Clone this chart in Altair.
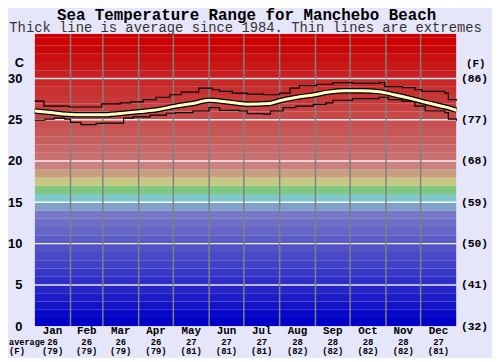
import altair as alt
import pandas as pd

# ---------------- data ----------------
month_names = ["Jan", "Feb", "Mar", "Apr", "May", "Jun",
               "Jul", "Aug", "Sep", "Oct", "Nov", "Dec"]
month_start = [0, 31, 59, 90, 120, 151, 181, 212, 243, 273, 304, 334]
month_len = [31, 28, 31, 30, 31, 30, 31, 31, 30, 31, 30, 31]
month_avg_c = [26, 26, 26, 26, 27, 27, 27, 28, 28, 28, 28, 27]
month_avg_f = [79, 79, 79, 79, 81, 81, 81, 82, 82, 82, 82, 81]

avg_day = [0, 14, 28, 43, 58, 74, 91, 108, 122, 137, 151, 165, 177, 184,
           203, 212, 226, 241, 255, 269, 283, 298, 312, 326, 340, 355, 365]
avg_temp = [26.06, 25.87, 25.67, 25.6, 25.6, 25.75, 25.98, 26.26, 26.65,
            26.97, 27.36, 27.17, 26.97, 26.88, 26.97, 27.3, 27.7, 28.0,
            28.35, 28.5, 28.5, 28.4, 28.0, 27.55, 27.05, 26.55, 26.15]

max_day = [0, 8, 30, 58, 74, 83, 94, 105, 117, 127, 142, 154, 160, 171, 184,
           198, 212, 221, 229, 244, 258, 275, 298, 303, 318, 329, 335, 355,
           358, 365]
max_temp = [27.25, 26.65, 26.54, 26.93, 27.05, 27.17, 27.44, 27.72, 28.03,
            28.35, 28.82, 28.63, 28.43, 28.23, 28.11, 28.03, 28.23, 28.82,
            29.14, 29.3, 29.5, 29.4, 29.5, 29.0, 28.9, 28.63, 28.43, 28.23,
            27.44, 27.33]

min_day = [0, 9, 17, 26, 31, 40, 53, 58, 77, 85, 100, 114, 122, 137, 151,
           160, 177, 184, 198, 204, 215, 226, 241, 252, 258, 275, 298, 306,
           318, 329, 338, 355, 358, 365]
min_temp = [24.96, 25.08, 25.2, 25.08, 24.68, 24.41, 24.57, 24.6, 25.2,
            25.35, 25.55, 25.79, 25.87, 26.06, 26.46, 26.14, 26.06, 25.75,
            25.67, 26.06, 26.46, 26.65, 26.85, 27.05, 27.36, 27.56, 27.72,
            27.44, 27.25, 26.65, 26.06, 25.87, 25.08, 24.88]

tick_c = [0, 5, 10, 15, 20, 25, 30]
band_lo = list(range(0, 36))

title_text = "Sea Temperature Range for Manchebo Beach"
subtitle_text = "Thick line is average since 1984. Thin lines are extremes"

# ---------------- styling ----------------
W, H = 427, 296
YMAX = 35.4
MONO = "Liberation Mono"
SANS = "Liberation Sans"


def band_color(t):
    if t <= 13:
        v = round(0x78 * t / 13)
        return "#%02x%02x%02x" % (v, v, 200)
    special = {14: "#80a0c8", 15: "#80c8c8", 16: "#80c880",
               17: "#c8c880", 18: "#c8a080", 19: "#c88080"}
    if t in special:
        return special[t]
    if t >= 34:
        return "#cc0000"
    g = max(0, 0x70 - 8 * (t - 20))
    return "#%02x%02x%02x" % (200, g, g)


bands_df = pd.DataFrame({
    "lo": band_lo,
    "hi": [min(v + 1, YMAX) for v in band_lo],
    "color": [band_color(v) for v in band_lo],
})
avg_df = pd.DataFrame({"day": avg_day, "temp": avg_temp})
max_df = pd.DataFrame({"day": max_day, "temp": max_temp})
min_df = pd.DataFrame({"day": min_day, "temp": min_temp})
hl_df = pd.DataFrame({"t": tick_c[1:]})
vl_df = pd.DataFrame({"d": month_start[1:]})
mon_df = pd.DataFrame({
    "mid": [s + l / 2 for s, l in zip(month_start, month_len)],
    "name": month_names,
    "c": [str(v) for v in month_avg_c],
    "f": ["(%d)" % v for v in month_avg_f],
})

xs = alt.Scale(domain=[0, 365], nice=False, zero=False)
ys = alt.Scale(domain=[0, YMAX], nice=False, zero=False)

bands = alt.Chart(bands_df).mark_rect(clip=True).encode(
    x=alt.value(0), x2=alt.value(W),
    y=alt.Y("lo:Q", scale=ys, axis=alt.Axis(
        values=tick_c, title="C", titleAngle=0, titleX=-16, titleY=29,
        titleAlign="center", titleBaseline="middle", titleFont=SANS,
        titleFontSize=13, titleFontWeight="bold", titleColor="#000",
        ticks=False, domain=False, grid=False, labelFont=SANS,
        labelFontSize=13, labelFontWeight="bold", labelPadding=13,
        labelColor="#000")),
    y2="hi:Q",
    color=alt.Color("color:N", scale=None),
)

hlines = alt.Chart(hl_df).mark_rule(color="white", strokeWidth=1.5, opacity=0.9).encode(
    x=alt.value(0), x2=alt.value(W),
    y=alt.Y("t:Q", scale=ys, axis=alt.Axis(
        orient="right", values=tick_c,
        labelExpr="'(' + round(datum.value * 9 / 5 + 32) + ')'",
        title="(F)", titleAngle=0, titleX=19, titleY=30, titleAlign="center",
        titleBaseline="middle", titleFont=MONO, titleFontSize=11,
        titleFontWeight="bold", titleColor="#000",
        ticks=False, domain=False, grid=False, labelFont=MONO,
        labelFontSize=11.5, labelFontWeight="bold", labelPadding=4,
        labelColor="#000")),
)

vlines = alt.Chart(vl_df).mark_rule(color="#808080", strokeWidth=1.5).encode(
    x=alt.X("d:Q", scale=xs, axis=None),
    y=alt.value(0), y2=alt.value(H),
)


def line(df, **kw):
    return alt.Chart(df).mark_line(**kw).encode(
        x=alt.X("day:Q", scale=xs, axis=None),
        y=alt.Y("temp:Q", scale=ys, axis=None),
    )


max_line = line(max_df, color="black", strokeWidth=1.2, interpolate="step-after")
min_line = line(min_df, color="black", strokeWidth=1.2, interpolate="step-after")
avg_outline = line(avg_df, color="black", strokeWidth=5.5, interpolate="monotone")
avg_inner = line(avg_df, color="#ffffc0", strokeWidth=3, interpolate="monotone")


def bottom_text(field, dy, size):
    return alt.Chart(mon_df).mark_text(
        font=MONO, fontWeight="bold", fontSize=size, baseline="middle",
        color="black").encode(
        x=alt.X("mid:Q", scale=xs, axis=None),
        y=alt.value(dy),
        text=f"{field}:N",
    )


names = bottom_text("name", H + 5, 11)
crow = bottom_text("c", H + 16, 9)
frow = bottom_text("f", H + 25, 9)


def free_text(txt, x, y, size, weight="bold", color="black", align="left"):
    return alt.Chart(pd.DataFrame({"t": [txt]})).mark_text(
        font=MONO, fontWeight=weight, fontSize=size, baseline="middle",
        align=align, color=color,
    ).encode(x=alt.value(x), y=alt.value(y), text="t:N")


avg_lbl = free_text("average", -26, H + 16, 8.7)
f_lbl = free_text("(F)", -26, H + 25, 9)
title_lbl = free_text(title_text, W / 2 + 1, -19.5, 16, align="center")
sub_lbl = free_text(subtitle_text, W / 2, -6, 14, weight="normal",
                    color="#333333", align="center")

chart = alt.layer(
    bands, hlines, vlines, max_line, min_line, avg_outline, avg_inner,
    names, crow, frow, avg_lbl, f_lbl, title_lbl, sub_lbl,
).resolve_scale(y="independent").properties(
    width=W, height=H,
    autosize=alt.AutoSizeParams(type="none"),
    padding={"left": 27, "top": 24, "right": 36, "bottom": 30},
    background="#e6e6fa",
).configure_view(stroke=None)

chart.save("out.html", embed_options={"renderer": "svg", "actions": False})
